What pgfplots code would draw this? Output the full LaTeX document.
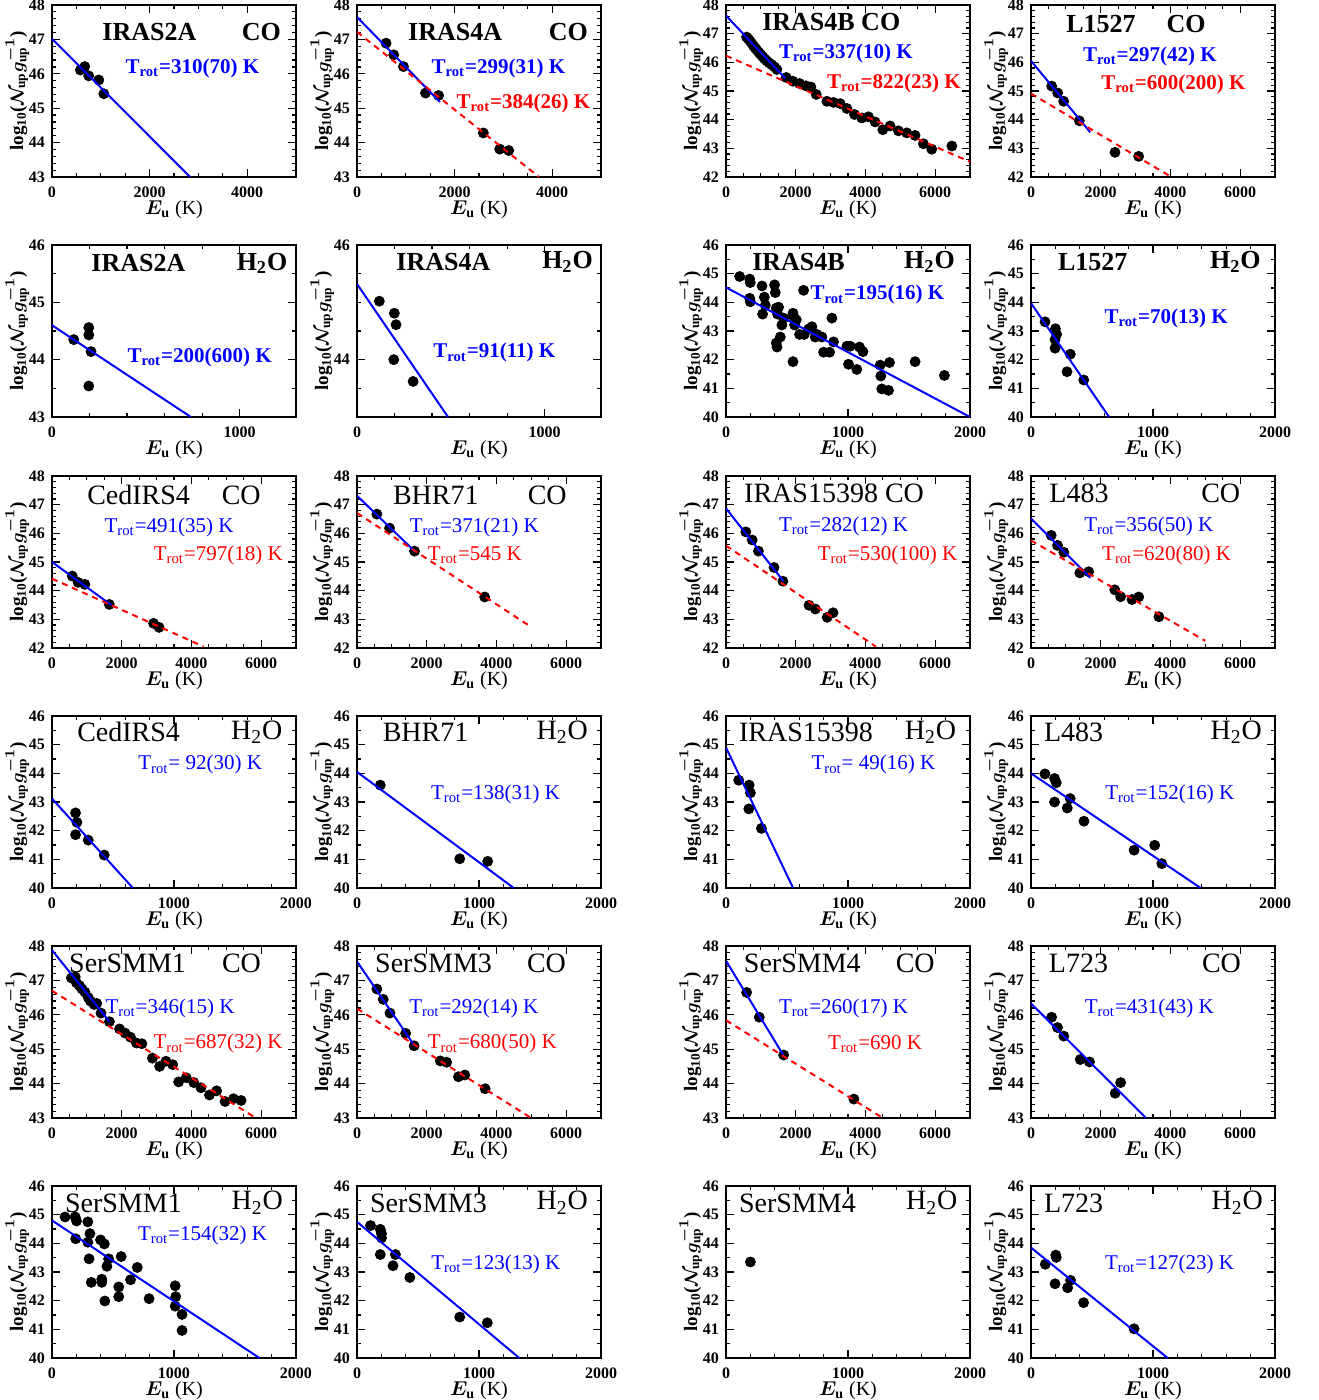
\documentclass[border=0pt]{standalone}
\usepackage{pgfplots}
\pgfplotsset{compat=1.18}
\usepackage{fontspec}
\setmainfont{Liberation Serif}

% fonts
\newcommand\TF{\fontsize{13}{14}\selectfont\bfseries}
\newcommand\TFr{\fontsize{14}{15}\selectfont}
\newcommand\RF{\fontsize{10.5}{11}\selectfont\bfseries}
\newcommand\RFr{\fontsize{10.5}{11}\selectfont}
\newcommand\Tr[1]{T\textsubscript{rot}=#1~K}
\newcommand\HtO{H\textsubscript{2}O}
% source name (west) and molecule (east)
\newcommand\names[6]{%
  \node[anchor=west,inner sep=0pt,font=#1] at (rel axis cs:#3,#6) {#2};
  \node[anchor=east,inner sep=0pt,font=#1] at (rel axis cs:#5,#6) {#4};}

\tikzset{lab/.style={anchor=west, inner sep=0pt}}

\pgfplotsset{
  panel/.style={
    scale only axis, width=122pt, height=86pt, anchor=south west,
    clip mode=individual,
    axis line style={line width=0.9pt},
    major tick length=4pt, minor tick length=2pt,
    every tick/.append style={line width=0.6pt, black},
    tick label style={font=\bfseries\fontsize{8}{9}\selectfont},
    x tick label style={yshift=-1.5pt},
    label style={font=\bfseries\fontsize{8.5}{9}\selectfont},
    every axis x label/.style={at={(axis description cs:0.5,0)}, anchor=center, yshift=-16.5pt},
    every axis y label/.style={at={(axis description cs:0,0.5)}, xshift=-17.5pt, rotate=90, anchor=center},
    ylabel style={font=\bfseries\fontsize{9.5}{10}\selectfont},
    xlabel={{\boldmath$E_{\mathrm{u}}$} (K)},
    ylabel={log\textsubscript{10}({\boldmath$\mathcal{N}_{\mathrm{up}}g_{\mathrm{up}}^{-1}$})},
    /pgf/number format/assume math mode=true,
    /pgf/number format/set thousands separator={},
  },
  co/.style={panel, xmin=0, xmax=7000, ymin=42, ymax=48,
    xtick={0,2000,4000,6000}, ytick={42,...,48},
    minor x tick num=3, minor y tick num=4},
  co5/.style={co, xmax=5000, ymin=43, xtick={0,2000,4000}},
  co3/.style={co, ymin=43},
  ho/.style={panel, xmin=0, xmax=2000, ymin=40, ymax=46,
    xtick={0,1000,2000}, ytick={40,...,46},
    minor x tick num=4, minor y tick num=1},
  ho2/.style={ho, xmax=1300, ymin=43, xtick={0,1000}, ytick={43,...,46}},
  pts/.style={only marks, mark=*, mark size=2.5pt, black},
  bl/.style={blue, line width=1pt, no marks},
  rd/.style={red, line width=1pt, no marks, dash pattern=on 3pt off 2.5pt},
}

\begin{document}
\begin{tikzpicture}
\useasboundingbox (0,0) rectangle (659pt,-700pt);

%%%%%%%%%%%%%%%% row 1 : CO
\begin{axis}[co5, at={(26pt,-88.5pt)}]
\addplot[pts] coordinates {(582,46.11) (671,46.21) (753,45.94) (959,45.82) (1062,45.42)};
\addplot[bl] coordinates {(0,47.02) (2830,43)};
\names{\TF}{IRAS2A}{0.205}{CO}{0.94}{0.845}
\node[lab,font=\RF,blue] at (rel axis cs:0.30,0.63) {\Tr{310(70)}};
\end{axis}

\begin{axis}[co5, at={(178.5pt,-88.5pt)}]
\addplot[pts] coordinates {(596,46.89) (753,46.55) (952,46.21) (1404,45.44) (1671,45.37) (2589,44.28) (2925,43.81) (3110,43.77)};
\addplot[bl] coordinates {(0,47.65) (1700,45.18)};
\addplot[rd] coordinates {(0,47.22) (3730,43)};
\names{\TF}{IRAS4A}{0.208}{CO}{0.948}{0.845}
\node[lab,font=\RF,blue] at (rel axis cs:0.304,0.633) {\Tr{299(31)}};
\node[lab,font=\RF,red] at (rel axis cs:0.407,0.43) {\Tr{384(26)}};
\end{axis}

\begin{axis}[co, at={(363pt,-88.5pt)}]
\addplot[pts] coordinates {(590,46.88) (640,46.82) (690,46.74) (740,46.66) (790,46.57) (840,46.50)
  (890,46.42) (940,46.35) (990,46.28) (1050,46.20) (1110,46.12) (1170,46.05) (1240,45.98)
  (1310,45.92) (1390,45.84) (1460,45.75) (1729,45.47) (1920,45.34) (2111,45.26) (2292,45.18)
  (2435,45.14) (2588,44.88) (2894,44.64) (3085,44.60) (3276,44.56) (3467,44.39) (3686,44.18)
  (3896,44.06) (4087,44.10) (4278,43.92) (4498,43.65) (4708,43.78) (4947,43.61) (5186,43.54)
  (5424,43.45) (5663,43.16) (5902,42.97) (6480,43.08)};
\addplot[bl] coordinates {(0,47.63) (1700,45.44)};
\addplot[rd] coordinates {(0,46.23) (7000,42.53)};
\node[lab,font=\TF] at (rel axis cs:0.147,0.903) {IRAS4B CO};
\node[lab,font=\RF,blue] at (rel axis cs:0.216,0.718) {\Tr{337(10)}};
\node[lab,font=\RF,red] at (rel axis cs:0.413,0.544) {\Tr{822(23)}};
\end{axis}

\begin{axis}[co, at={(515.5pt,-88.5pt)}]
\addplot[pts] coordinates {(593,45.17) (765,44.93) (937,44.64) (1386,43.96) (2409,42.86) (3088,42.72)};
\addplot[bl] coordinates {(0,46.05) (1700,43.56)};
\addplot[rd] coordinates {(0,44.91) (4000,42.02)};
\names{\TF}{L1527}{0.143}{CO}{0.717}{0.89}
\node[lab,font=\RF,blue] at (rel axis cs:0.212,0.70) {\Tr{297(42)}};
\node[lab,font=\RF,red] at (rel axis cs:0.287,0.537) {\Tr{600(200)}};
\end{axis}

%%%%%%%%%%%%%%%% row 2 : H2O
\begin{axis}[ho2, at={(26pt,-208.5pt)}]
\addplot[pts] coordinates {(116,44.35) (196,44.56) (196,44.43) (208,44.14) (196,43.54)};
\addplot[bl] coordinates {(0,44.6) (740,43)};
\names{\TF}{IRAS2A}{0.16}{\HtO}{0.966}{0.893}
\node[lab,font=\RF,blue] at (rel axis cs:0.308,0.347) {\Tr{200(600)}};
\end{axis}

\begin{axis}[ho2, at={(178.5pt,-208.5pt)}, ytick={44,46}, minor ytick={43,43.5,44.5,45,45.5}]
\addplot[pts] coordinates {(119,45.02) (199,44.81) (208,44.61) (196,44.0) (299,43.62)};
\addplot[bl] coordinates {(0,45.32) (485,43)};
\names{\TF}{IRAS4A}{0.16}{\HtO}{0.968}{0.90}
\node[lab,font=\RF,blue] at (rel axis cs:0.311,0.373) {\Tr{91(11)}};
\end{axis}

\begin{axis}[ho, at={(363pt,-208.5pt)}]
\addplot[pts] coordinates {(112,44.90) (194,44.81) (199,44.69) (194,44.14) (199,44.02) (295,44.57)
  (314,44.18) (322,43.90) (300,43.59) (398,44.61) (404,44.34) (412,43.80) (423,43.59) (431,43.83)
  (412,42.58) (418,42.44) (445,42.79) (458,43.21) (472,43.45) (549,41.93) (549,43.62) (554,43.51)
  (562,43.21) (576,43.39) (603,42.88) (636,44.42) (641,42.88) (677,43.07) (704,43.15) (731,42.79)
  (745,42.88) (786,42.79) (800,42.26) (849,42.26) (868,43.45) (881,42.62) (991,42.47) (1004,41.84)
  (1018,42.47) (1072,41.66) (1094,42.44) (1122,42.28) (1264,41.81) (1269,41.43) (1277,40.98)
  (1332,40.93) (1340,41.90) (1550,41.93) (1790,41.45)};
\addplot[bl] coordinates {(0,44.52) (2000,40.0)};
\names{\TF}{IRAS4B}{0.106}{\HtO}{0.939}{0.90}
\node[lab,font=\RF,blue] at (rel axis cs:0.345,0.71) {\Tr{195(16)}};
\end{axis}

\begin{axis}[ho, at={(515.5pt,-208.5pt)}]
\addplot[pts] coordinates {(115,43.32) (200,43.08) (210,42.88) (197,42.70) (197,42.40) (322,42.19) (295,41.58) (432,41.29)};
\addplot[bl] coordinates {(0,43.97) (640,40)};
\names{\TF}{L1527}{0.109}{\HtO}{0.943}{0.90}
\node[lab,font=\RF,blue] at (rel axis cs:0.30,0.574) {\Tr{70(13)}};
\end{axis}

%%%%%%%%%%%%%%%% row 3 : CO
\begin{axis}[co, at={(26pt,-324pt)}]
\addplot[pts] coordinates {(580,44.51) (750,44.29) (943,44.22) (1644,43.52) (2914,42.86) (3071,42.72)};
\addplot[bl] coordinates {(0,45.0) (1700,43.5)};
\addplot[rd] coordinates {(0,44.42) (4350,42.05)};
\names{\TFr}{CedIRS4}{0.143}{CO}{0.857}{0.888}
\node[lab,font=\RFr,blue] at (rel axis cs:0.214,0.70) {\Tr{491(35)}};
\node[lab,font=\RFr,red] at (rel axis cs:0.416,0.538) {\Tr{797(18)}};
\end{axis}

\begin{axis}[co, at={(178.5pt,-324pt)}]
\addplot[pts] coordinates {(570,46.67) (934,46.18) (1650,45.38) (3663,43.78)};
\addplot[bl] coordinates {(0,47.31) (1650,45.38)};
\addplot[rd] coordinates {(0,46.71) (4950,42.77)};
\names{\TFr}{BHR71}{0.146}{CO}{0.861}{0.888}
\node[lab,font=\RFr,blue] at (rel axis cs:0.215,0.70) {\Tr{371(21)}};
\node[lab,font=\RFr,red] at (rel axis cs:0.289,0.538) {T\textsubscript{rot}=545~K};
\end{axis}

\begin{axis}[co, at={(363pt,-324pt)}]
\addplot[pts] coordinates {(568,46.05) (750,45.77) (931,45.38) (1378,44.81) (1632,44.33) (2382,43.49) (2563,43.36) (2902,43.07) (3071,43.23)};
\addplot[bl] coordinates {(0,46.87) (1650,44.33)};
\addplot[rd] coordinates {(0,45.57) (4300,42.05)};
\node[lab,font=\TFr] at (rel axis cs:0.073,0.897) {IRAS15398 CO};
\node[lab,font=\RFr,blue] at (rel axis cs:0.216,0.709) {\Tr{282(12)}};
\node[lab,font=\RFr,red] at (rel axis cs:0.375,0.54) {\Tr{530(100)}};
\end{axis}

\begin{axis}[co, at={(515.5pt,-324pt)}]
\addplot[pts] coordinates {(579,45.93) (760,45.58) (941,45.34) (1400,44.62) (1654,44.66) (2402,44.03) (2571,43.79) (2897,43.69) (3090,43.78) (3669,43.09)};
\addplot[bl] coordinates {(0,46.52) (1700,44.45)};
\addplot[rd] coordinates {(0,45.75) (5000,42.25)};
\names{\TFr}{L483}{0.074}{CO}{0.859}{0.897}
\node[lab,font=\RFr,blue] at (rel axis cs:0.217,0.709) {\Tr{356(50)}};
\node[lab,font=\RFr,red] at (rel axis cs:0.29,0.54) {\Tr{620(80)}};
\end{axis}

%%%%%%%%%%%%%%%% row 4 : H2O
\begin{axis}[ho, at={(26pt,-444pt)}]
\addplot[pts] coordinates {(193,42.62) (204,42.29) (193,41.86) (297,41.67) (428,41.15)};
\addplot[bl] coordinates {(0,43.12) (663,40)};
\names{\TFr}{CedIRS4}{0.102}{\HtO}{0.946}{0.906}
\node[lab,font=\RFr,blue] at (rel axis cs:0.352,0.716) {\Tr{~92(30)}};
\end{axis}

\begin{axis}[ho, at={(178.5pt,-444pt)}]
\addplot[pts] coordinates {(191,43.59) (842,41.02) (1071,40.93)};
\addplot[bl] coordinates {(0,44.05) (1285,40)};
\names{\TFr}{BHR71}{0.104}{\HtO}{0.948}{0.906}
\node[lab,font=\RFr,blue] at (rel axis cs:0.302,0.545) {\Tr{138(31)}};
\end{axis}

\begin{axis}[ho, at={(363pt,-444pt)}]
\addplot[pts] coordinates {(104,43.76) (190,43.59) (200,43.32) (187,42.76) (290,42.08)};
\addplot[bl] coordinates {(0,44.9) (550,40)};
\names{\TFr}{IRAS15398}{0.052}{\HtO}{0.945}{0.906}
\node[lab,font=\RFr,blue] at (rel axis cs:0.349,0.716) {\Tr{~49(16)}};
\end{axis}

\begin{axis}[ho, at={(515.5pt,-444pt)}]
\addplot[pts] coordinates {(114,43.98) (193,43.82) (207,43.67) (193,43.0) (297,42.79) (321,43.12) (434,42.33) (845,41.32) (1014,41.49) (1072,40.85)};
\addplot[bl] coordinates {(0,44.0) (1390,40)};
\names{\TFr}{L483}{0.052}{\HtO}{0.948}{0.906}
\node[lab,font=\RFr,blue] at (rel axis cs:0.303,0.545) {\Tr{152(16)}};
\end{axis}

%%%%%%%%%%%%%%%% row 5 : CO
\begin{axis}[co3, at={(26pt,-559pt)}]
\addplot[pts] coordinates {(557,47.07) (666,47.10) (702,46.93) (787,46.85) (860,46.75) (945,46.66)
  (1041,46.50) (1102,46.40) (1211,46.30) (1284,46.33) (1405,46.05) (1647,45.80) (1938,45.59)
  (2095,45.47) (2252,45.35) (2422,45.18) (2579,45.16) (2882,44.74) (3088,44.50) (3270,44.65)
  (3463,44.55) (3633,44.05) (3851,44.17) (4069,44.03) (4275,43.88) (4517,43.67) (4723,43.79)
  (4965,43.48) (5207,43.56) (5425,43.51)};
\addplot[bl] coordinates {(0,47.88) (1650,45.8)};
\addplot[rd] coordinates {(0,46.7) (5850,43)};
\names{\TFr}{SerSMM1}{0.069}{CO}{0.858}{0.897}
\node[lab,font=\RFr,blue] at (rel axis cs:0.218,0.636) {\Tr{346(15)}};
\node[lab,font=\RFr,red] at (rel axis cs:0.415,0.431) {\Tr{687(32)}};
\end{axis}

\begin{axis}[co3, at={(178.5pt,-559pt)}]
\addplot[pts] coordinates {(570,46.75) (752,46.45) (946,46.05) (1395,45.46) (1638,45.10) (2390,44.66) (2572,44.62) (2911,44.20) (3093,44.25) (3676,43.85)};
\addplot[bl] coordinates {(0,47.55) (1650,45.1)};
\addplot[rd] coordinates {(0,46.18) (5000,43)};
\names{\TFr}{SerSMM3}{0.073}{CO}{0.858}{0.897}
\node[lab,font=\RFr,blue] at (rel axis cs:0.213,0.636) {\Tr{292(14)}};
\node[lab,font=\RFr,red] at (rel axis cs:0.289,0.431) {\Tr{680(50)}};
\end{axis}

\begin{axis}[co3, at={(363pt,-559pt)}]
\addplot[pts] coordinates {(591,46.65) (954,45.93) (1654,44.83) (3669,43.55)};
\addplot[bl] coordinates {(0,47.57) (1650,44.82)};
\addplot[rd] coordinates {(0,45.84) (4500,43)};
\names{\TFr}{SerSMM4}{0.072}{CO}{0.857}{0.897}
\node[lab,font=\RFr,blue] at (rel axis cs:0.216,0.636) {\Tr{260(17)}};
\node[lab,font=\RFr,red] at (rel axis cs:0.417,0.431) {T\textsubscript{rot}=690~K};
\end{axis}

\begin{axis}[co3, at={(515.5pt,-559pt)}]
\addplot[pts] coordinates {(591,45.93) (760,45.63) (941,45.38) (1412,44.70) (1678,44.63) (2414,43.72) (2571,44.03)};
\addplot[bl] coordinates {(0,46.33) (3300,43)};
\names{\TFr}{L723}{0.072}{CO}{0.862}{0.897}
\node[lab,font=\RFr,blue] at (rel axis cs:0.219,0.636) {\Tr{431(43)}};
\end{axis}

%%%%%%%%%%%%%%%% row 6 : H2O
\begin{axis}[ho, at={(26pt,-679pt)}]
\addplot[pts] coordinates {(107,44.92) (190,44.92) (201,44.78) (194,44.16) (294,44.75) (311,44.34)
  (294,44.04) (304,43.46) (322,42.64) (398,44.12) (429,43.98) (408,42.64) (408,42.75) (433,41.99)
  (450,43.20) (464,43.46) (547,42.48) (547,42.14) (567,43.54) (644,42.73) (699,43.16) (796,42.07)
  (1010,42.52) (1014,42.14) (1010,41.81) (1066,41.52) (1066,40.96)};
\addplot[bl] coordinates {(0,44.8) (1700,40)};
\names{\TFr}{SerSMM1}{0.052}{\HtO}{0.948}{0.902}
\node[lab,font=\RFr,blue] at (rel axis cs:0.351,0.713) {\Tr{154(32)}};
\end{axis}

\begin{axis}[ho, at={(178.5pt,-679pt)}]
\addplot[pts] coordinates {(111,44.62) (191,44.49) (201,44.34) (201,44.19) (191,43.61) (295,43.22) (315,43.61) (433,42.81) (842,41.43) (1068,41.23)};
\addplot[bl] coordinates {(0,44.75) (1330,40)};
\names{\TFr}{SerSMM3}{0.052}{\HtO}{0.948}{0.902}
\node[lab,font=\RFr,blue] at (rel axis cs:0.303,0.543) {\Tr{123(13)}};
\end{axis}

\begin{axis}[ho, at={(363pt,-679pt)}]
\addplot[pts] coordinates {(200,43.35)};
\names{\TFr}{SerSMM4}{0.052}{\HtO}{0.95}{0.902}
\end{axis}

\begin{axis}[ho, at={(515.5pt,-679pt)}]
\addplot[pts] coordinates {(117,43.27) (203,43.59) (207,43.51) (197,42.59) (300,42.45) (324,42.71) (431,41.93) (845,41.02)};
\addplot[bl] coordinates {(0,43.85) (1120,40)};
\names{\TFr}{L723}{0.052}{\HtO}{0.952}{0.902}
\node[lab,font=\RFr,blue] at (rel axis cs:0.302,0.545) {\Tr{127(23)}};
\end{axis}

\end{tikzpicture}
\end{document}
